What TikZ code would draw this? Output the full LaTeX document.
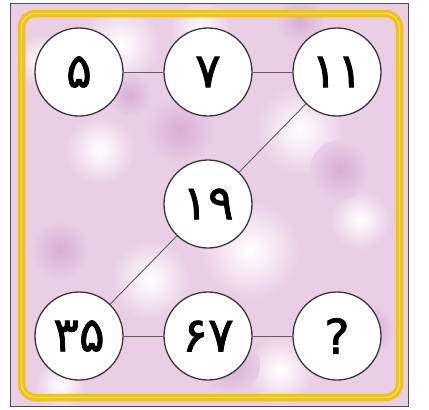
\documentclass[tikz,border=0pt]{standalone}
\usepackage{fontspec}
\newfontfamily\fadigits[FakeBold=1.6]{DejaVu Sans}
\definecolor{pinkbg}{RGB}{234,206,230}
\definecolor{pinkdark}{RGB}{216,174,212}
\definecolor{goldframe}{RGB}{242,192,22}
\definecolor{goldlight}{RGB}{255,226,100}
\definecolor{ringgray}{RGB}{55,55,55}

\begin{document}
\begin{tikzpicture}[x=1pt,y=-1pt,
  num/.style={circle,draw=ringgray,line width=1.3pt,fill=white,minimum size=88pt,inner sep=0pt,
    font=\fadigits\fontsize{48}{48}\selectfont},
  link/.style={draw=ringgray!80,line width=0.9pt}]
\useasboundingbox (0,0) rectangle (429,410);
\fill[white] (0,0) rectangle (429,410);
\fill[pinkbg] (10,3) rectangle (408,406);
% blotches in the background
\begin{scope}
\clip (10,3) rectangle (408,406);
\foreach \x/\y/\r in {120/45/40,300/130/45,100/150/35,250/250/50,150/280/40,360/220/30,60/385/25,280/370/35,40/60/25,200/30/30}
  \shade[inner color=white,outer color=pinkbg] (\x,\y) circle (\r);
\foreach \x/\y/\r in {180/130/35,340/170/30,60/250/30,370/330/25,230/365/30,130/95/22,300/20/25}
  \shade[inner color=pinkdark,outer color=pinkbg] (\x,\y) circle (\r);
\end{scope}
\draw[gray!60!black,line width=0.8pt] (10,3) rectangle (408,406);
% frame
\draw[goldframe,line width=7.5pt,rounded corners=14pt] (21.5,13.5) rectangle (399.5,397.5);
\draw[goldlight,line width=1.2pt,rounded corners=14pt] (21.5,13.5) rectangle (399.5,397.5);
% numbers
\node[num] (n5) at (79,72) {۵};
\node[num] (n7) at (208,72) {۷};
\node[num] (n11) at (337,72) {۱۱};
\node[num] (n19) at (208,204) {۱۹};
\node[num] (n35) at (79,336) {۳۵};
\node[num] (n67) at (208,336) {۶۷};
\node[num] (nq) at (337,336) {?};
\draw[link] (n5)--(n7);
\draw[link] (n7)--(n11);
\draw[link] (n11)--(n19);
\draw[link] (n19)--(n35);
\draw[link] (n35)--(n67);
\draw[link] (n67)--(nq);
\end{tikzpicture}
\end{document}
